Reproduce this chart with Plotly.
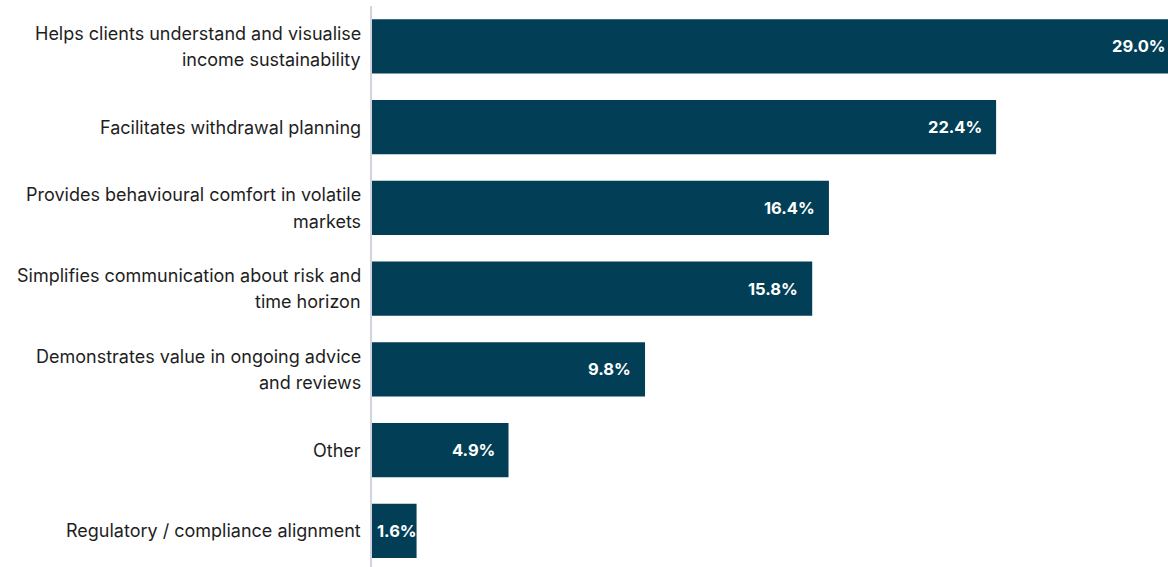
import plotly.graph_objects as go

# Survey responses: perceived benefits, share of respondents (%)
categories = [
    "Helps clients understand and visualise<br>income sustainability",
    "Facilitates withdrawal planning",
    "Provides behavioural comfort in volatile<br>markets",
    "Simplifies communication about risk and<br>time horizon",
    "Demonstrates value in ongoing advice<br>and reviews",
    "Other",
    "Regulatory / compliance alignment",
]
values = [29.0, 22.4, 16.4, 15.8, 9.8, 4.9, 1.6]
value_labels = ["29.0%", "22.4%", "16.4%", "15.8%", "9.8%", "4.9%", "1.6%"]

BAR_COLOR = "#023F56"
TEXT_COLOR = "#1E1E1E"
FONT = "Inter"
X_MAX = 28.57          # visible end of the value axis; the top bar runs past it
LINE_H = 26.5          # line spacing for wrapped category labels

fig = go.Figure(
    go.Bar(
        x=values,
        y=list(range(len(categories))),
        orientation="h",
        marker=dict(color=BAR_COLOR, line=dict(width=0)),
        hoverinfo="skip",
    )
)

# Category labels, right-aligned against the axis line, one annotation per line
for i, label in enumerate(categories):
    lines = label.split("<br>")
    n = len(lines)
    for k, line in enumerate(lines):
        fig.add_annotation(
            xref="paper", x=0, y=i, text=line, showarrow=False,
            xanchor="right", yanchor="middle",
            xshift=-9, yshift=((n - 1) / 2 - k) * LINE_H,
            font=dict(family=FONT, size=18, color=TEXT_COLOR),
        )

# Value labels inside the bar ends (placed in paper units so the clipped top bar keeps its label);
# very short bars get the label at the base
for i, (v, lab) in enumerate(zip(values, value_labels)):
    if v >= 3:
        pos, anchor, shift = v / X_MAX, "right", -12
    else:
        pos, anchor, shift = 0, "left", 3
    fig.add_annotation(
        xref="paper", x=pos, y=i, text=f"<b>{lab}</b>", showarrow=False,
        xanchor=anchor, xshift=shift, yanchor="middle",
        font=dict(family=FONT, size=16.5, color="white"),
    )

fig.update_layout(
    width=1168,
    height=567,
    margin=dict(l=372, r=0, t=6, b=0, pad=0),
    plot_bgcolor="white",
    paper_bgcolor="white",
    bargap=0.33,
    showlegend=False,
    font=dict(family=FONT, color=TEXT_COLOR, size=18),
    xaxis=dict(
        range=[0, X_MAX],
        visible=False,
        showgrid=False,
        zeroline=False,
    ),
    yaxis=dict(
        range=[6.447, -0.5],
        showticklabels=False,
        showgrid=False,
        zeroline=False,
        showline=True,
        linecolor="#D3D3DE",
        linewidth=2,
        ticks="",
        automargin=False,
    ),
)

fig.write_html("out.html")
